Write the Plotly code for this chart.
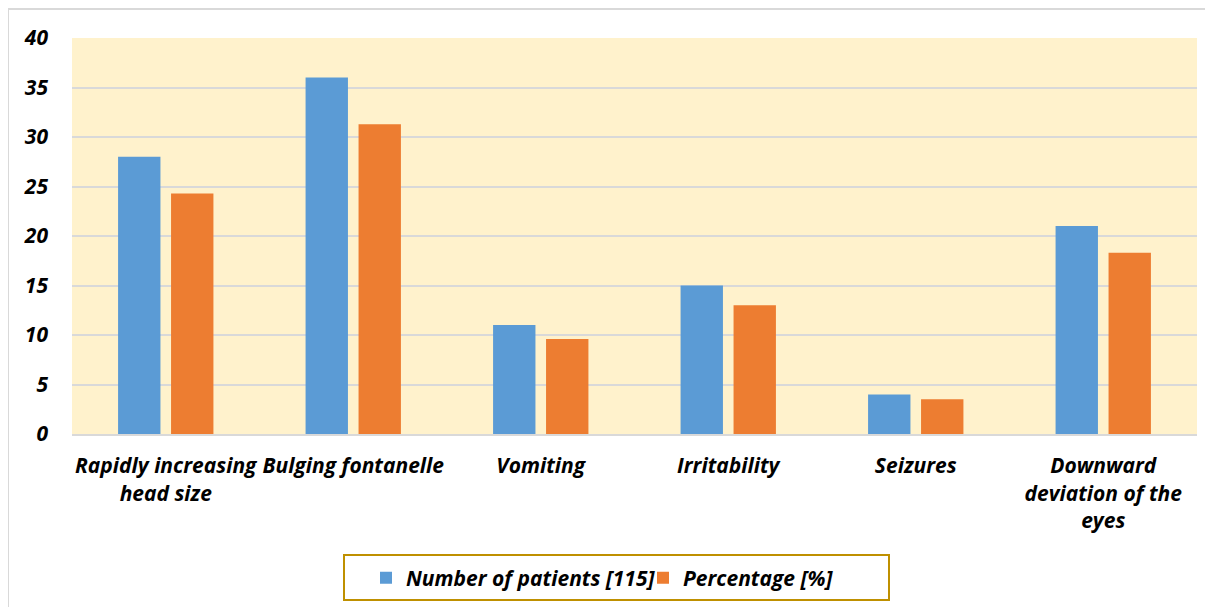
import plotly.graph_objects as go

categories = [
    "Rapidly increasing<br>head size",
    "Bulging fontanelle",
    "Vomiting",
    "Irritability",
    "Seizures",
    "Downward<br>deviation of the<br>eyes",
]
patients = [28, 36, 11, 15, 4, 21]
percentage = [24.3, 31.3, 9.6, 13.0, 3.5, 18.3]
y_ticks = [0, 5, 10, 15, 20, 25, 30, 35, 40]

FONT = "Open Sans"
FS = 21
W, H = 1213, 607
OFF = 8  # page body margin offset
# target plot area in screenshot pixels: x 72..1197, y 38..434
L = 72 - OFF
R = W - (1197 - OFF)
T = 38 - OFF
B = H - (434 - OFF)
pw, ph = W - L - R, H - T - B

def px_x(x):
    return (x - OFF - L) / pw

def px_y(y):
    return (H - B - (y - OFF)) / ph

tf = dict(family=FONT, size=FS, color="black", weight="bold", style="italic")

fig = go.Figure()
fig.add_trace(go.Bar(x=categories, y=patients, name="Number of patients [115]",
                     marker=dict(color="#5B9BD5", line=dict(width=0))))
fig.add_trace(go.Bar(x=categories, y=percentage, name="Percentage [%]",
                     marker=dict(color="#ED7D31", line=dict(width=0))))

fig.update_layout(
    width=W, height=H,
    margin=dict(l=L, r=R, t=T, b=B, autoexpand=False),
    paper_bgcolor="white",
    plot_bgcolor="#FFF2CC",
    barmode="group",
    bargap=0.435,
    bargroupgap=0.2,
    font=dict(family=FONT, size=FS, color="black"),
    showlegend=True,
    legend=dict(orientation="h", x=px_x(366), y=px_y(578), xanchor="left", yanchor="middle",
                bgcolor="rgba(0,0,0,0)", borderwidth=0, font=tf,
                itemwidth=30, entrywidth=232, traceorder="normal"),
    xaxis=dict(showgrid=False, tickfont=tf, ticklabelstandoff=12,
               showline=True, linecolor="#D9D9D9", linewidth=2, ticks=""),
    yaxis=dict(range=[0, 40], tickvals=y_ticks, showgrid=True, gridcolor="#D9D9D9", gridwidth=1.5,
               zeroline=False, showline=False, ticks="", ticklabelstandoff=23,
               tickfont=tf),
    shapes=[
        dict(type="rect", xref="paper", yref="paper",
             x0=px_x(8), x1=px_x(1240), y0=px_y(630), y1=px_y(9),
             line=dict(color="#D9D9D9", width=2), fillcolor="rgba(0,0,0,0)", layer="below"),
        dict(type="rect", xref="paper", yref="paper",
             x0=px_x(344), x1=px_x(889), y0=px_y(600), y1=px_y(555),
             line=dict(color="#BF9000", width=2), fillcolor="rgba(0,0,0,0)"),
    ],
)

fig.write_html("out.html")
